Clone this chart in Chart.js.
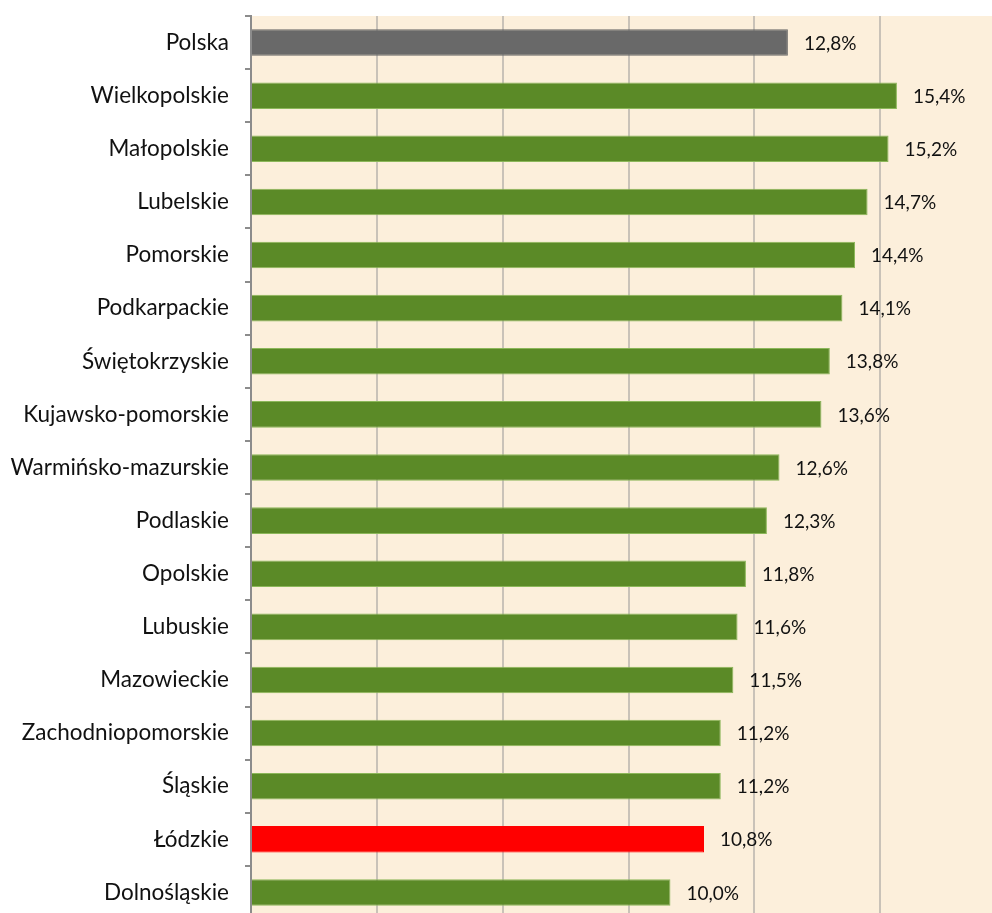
<!DOCTYPE html>
<html>
<head>
<meta charset="utf-8">
<script src="https://cdn.jsdelivr.net/npm/chart.js@4/dist/chart.umd.min.js"></script>
<style>
html,body{margin:0;padding:0;background:#fff;overflow:hidden;}
#wrap{position:absolute;left:0;top:0;width:992px;height:913px;overflow:hidden;}
canvas{display:block;}
</style>
</head>
<body>
<div id="wrap"><canvas id="c" width="1006" height="919"></canvas></div>
<script>
const categories = ["Polska","Wielkopolskie","Małopolskie","Lubelskie","Pomorskie","Podkarpackie","Świętokrzyskie","Kujawsko-pomorskie","Warmińsko-mazurskie","Podlaskie","Opolskie","Lubuskie","Mazowieckie","Zachodniopomorskie","Śląskie","Łódzkie","Dolnośląskie"];
const values = [12.8,15.4,15.2,14.7,14.4,14.1,13.8,13.6,12.6,12.3,11.8,11.6,11.5,11.2,11.2,10.8,10.0];
const barColors = ["#696969","#5B8A27","#5B8A27","#5B8A27","#5B8A27","#5B8A27","#5B8A27","#5B8A27","#5B8A27","#5B8A27","#5B8A27","#5B8A27","#5B8A27","#5B8A27","#5B8A27","#FF0000","#5B8A27"];
const borderColors = ["#696969","#8CB75A","#8CB75A","#8CB75A","#8CB75A","#8CB75A","#8CB75A","#8CB75A","#8CB75A","#8CB75A","#8CB75A","#8CB75A","#8CB75A","#8CB75A","#8CB75A","#FF0000","#8CB75A"];
const xTicks = [0,3,6,9,12,15,18];

const bgPlugin = {
  id:'bg',
  beforeDraw(chart){
    const {ctx, chartArea:a} = chart;
    ctx.save();
    ctx.fillStyle = '#FCEFDB';
    ctx.fillRect(a.left, a.top, a.right-a.left, a.bottom-a.top);
    ctx.restore();
  }
};
const labelPlugin = {
  id:'vals',
  afterDatasetsDraw(chart){
    const {ctx} = chart;
    const meta = chart.getDatasetMeta(0);
    ctx.save();
    ctx.font = '19px Lato, "Open Sans", sans-serif';
    ctx.fillStyle = '#111';
    ctx.textAlign = 'left';
    ctx.textBaseline = 'middle';
    meta.data.forEach((bar,i)=>{
      const v = chart.data.datasets[0].data[i];
      ctx.fillText(v.toFixed(1).replace('.',',') + '%', bar.x + 16, bar.y + 1);
    });
    ctx.restore();
  }
};

new Chart(document.getElementById('c'), {
  type:'bar',
  data:{
    labels:categories,
    datasets:[{
      data:values,
      backgroundColor:barColors,
      borderColor:borderColors,
      borderWidth:1,
      categoryPercentage:1.0,
      barPercentage:0.5
    }]
  },
  options:{
    indexAxis:'y',
    responsive:false,
    animation:false,
    layout:{padding:{top:16,left:0,right:0,bottom:0}},
    plugins:{legend:{display:false},tooltip:{enabled:false}},
    scales:{
      x:{
        min:0,max:18,
        afterBuildTicks(scale){ scale.ticks = xTicks.map(v=>({value:v})); },
        afterFit(scale){ scale.height = 0; scale.paddingLeft=0; scale.paddingRight=0; },
        ticks:{display:false},
        grid:{color:'#C9C2B8',lineWidth:2,drawTicks:false},
        border:{display:false}
      },
      y:{
        afterFit(scale){ scale.width = 251; scale.paddingTop = 0; scale.paddingBottom = 0; },
        ticks:{color:'#111',font:{family:'Lato, "Open Sans", sans-serif',size:22.5},padding:16},
        grid:{drawOnChartArea:false,drawTicks:true,tickLength:6,color:'#8C8C8C',lineWidth:2},
        border:{display:true,color:'#8C8C8C',width:2}
      }
    }
  },
  plugins:[bgPlugin,labelPlugin]
});
</script>
</body>
</html>
